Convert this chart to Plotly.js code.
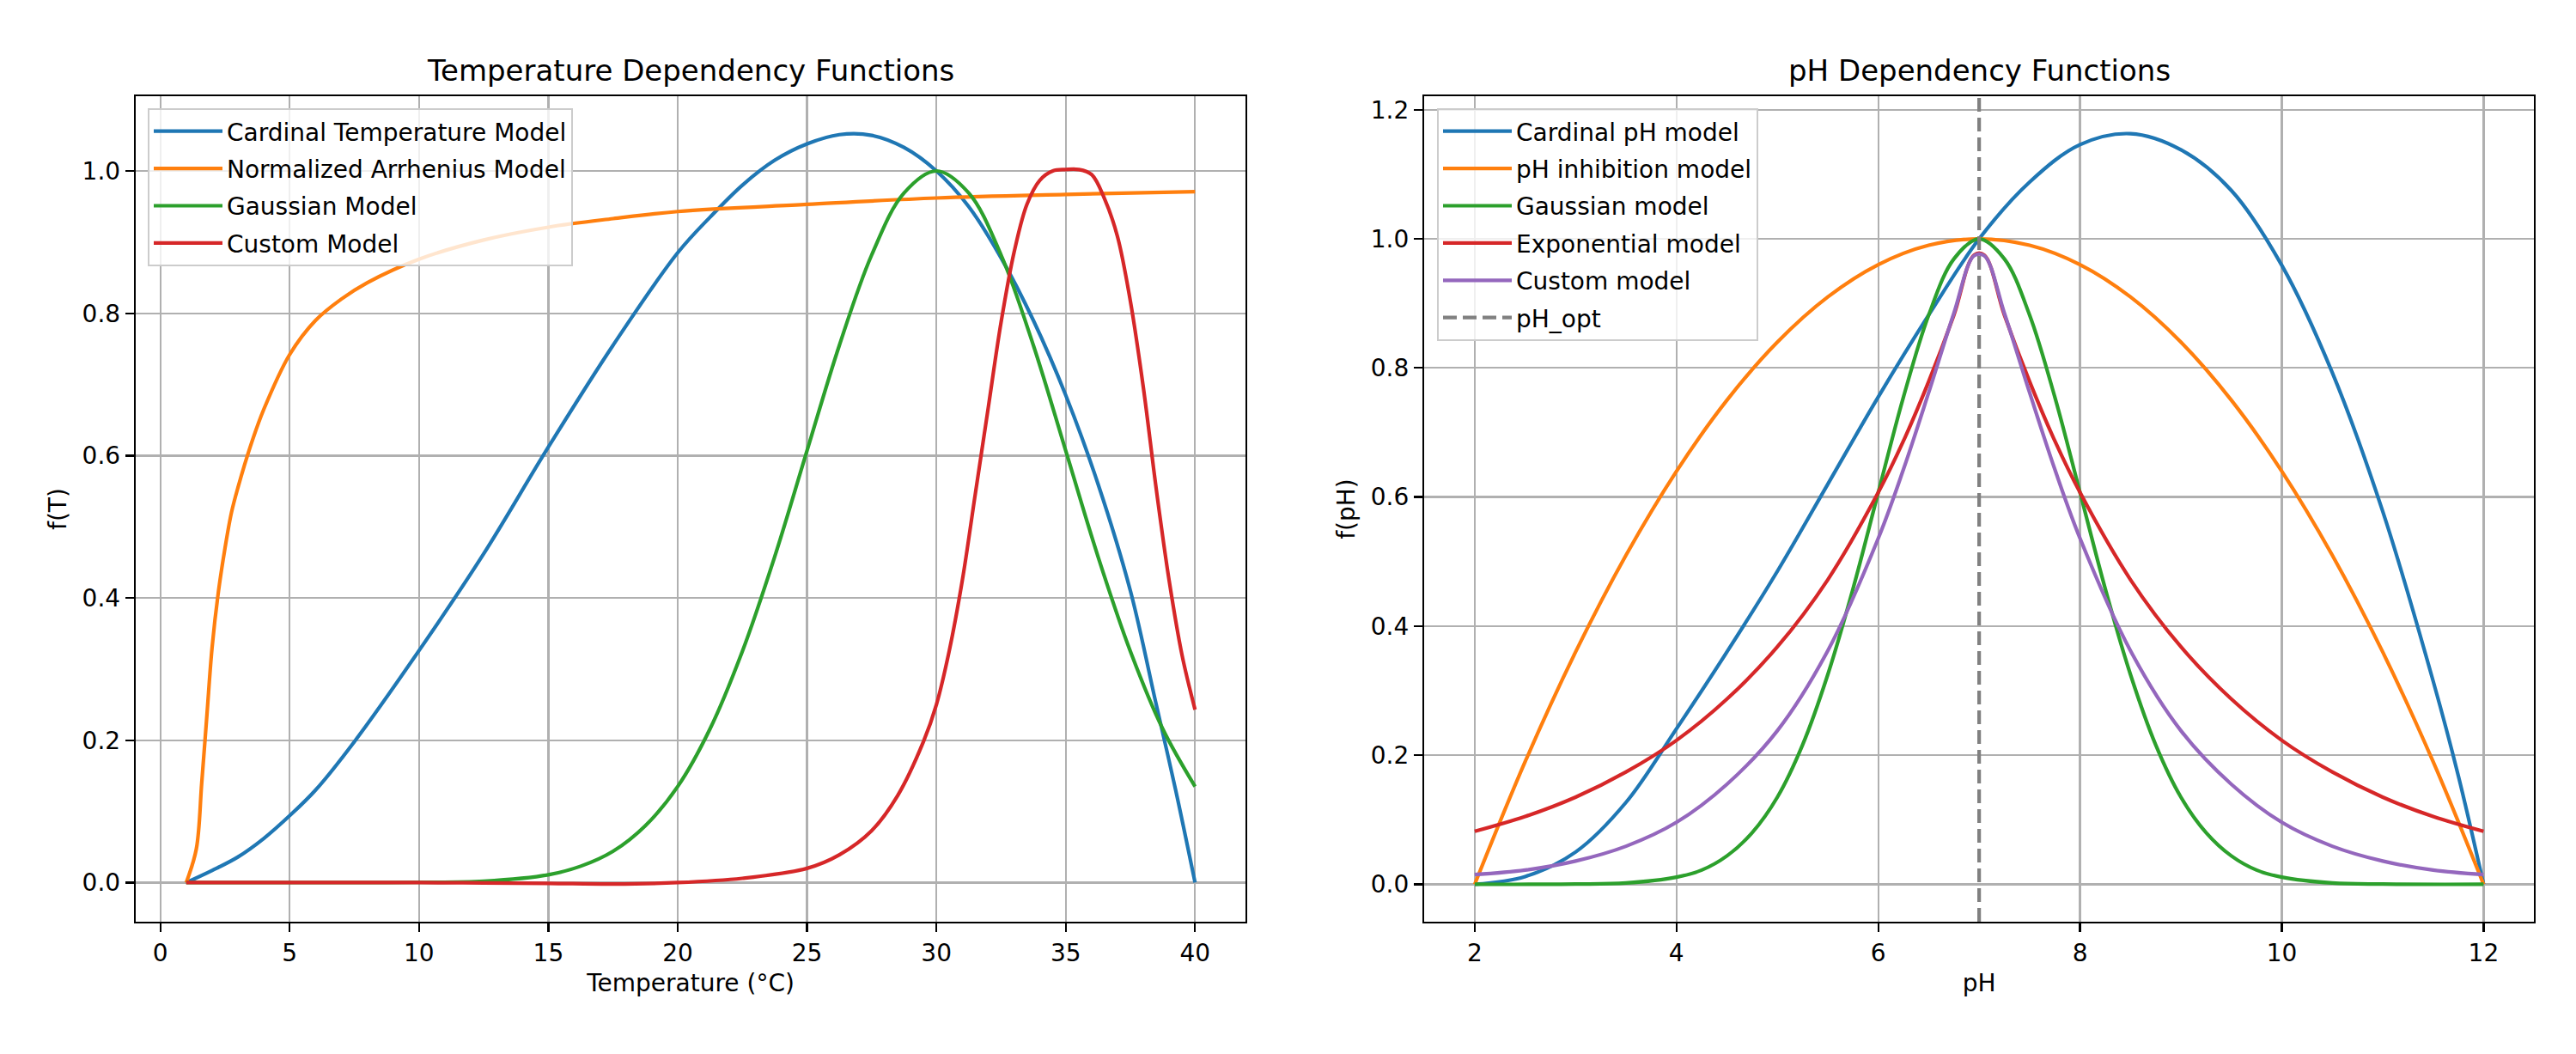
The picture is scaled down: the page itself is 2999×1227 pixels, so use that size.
<!DOCTYPE html>
<html>
<head>
<meta charset="utf-8">
<script src="https://cdn.plot.ly/plotly-3.0.1.min.js"></script>
<style>
    html, body { margin: 0; padding: 0; background: #ffffff; }
    #chart { width: 2999px; height: 1227px; }
</style>
</head>
<body>
<div id="chart"></div>
<script>
// Temperature panel
const cardinalTempX = [1, 2, 3, 4, 5, 6, 7.5, 10, 12.5, 15, 17.5, 20, 21.25, 22.5, 23.75, 25, 26.25, 27.5, 28.75, 30, 31.25, 32.5, 33.75, 35, 36.25, 37.5, 38.5, 39.25, 40];
const cardinalTempY = [0, 0.017, 0.036, 0.062, 0.094, 0.13, 0.198, 0.326, 0.462, 0.612, 0.755, 0.885, 0.935, 0.98, 1.015, 1.038, 1.051, 1.05, 1.033, 1.0, 0.95, 0.878, 0.79, 0.685, 0.56, 0.41, 0.25, 0.13, 0];

const arrheniusX = [1, 1.39, 1.6, 1.8, 2, 2.25, 2.5, 2.75, 3, 3.5, 4, 5, 6, 7, 8, 10, 12.5, 15, 17.5, 20, 25, 30, 35, 40];
const arrheniusY = [0, 0.047, 0.14, 0.235, 0.33, 0.41, 0.47, 0.52, 0.555, 0.615, 0.665, 0.742, 0.79, 0.82, 0.843, 0.876, 0.903, 0.921, 0.933, 0.943, 0.953, 0.962, 0.967, 0.971];

const gaussTempX = [1, 5, 7.5, 10, 12.5, 15, 16.25, 17.5, 18.75, 20, 21.25, 22.5, 23.75, 25, 26.25, 27.5, 28.75, 30, 31.25, 32.5, 33.75, 35, 36.25, 37.5, 38.75, 40];
const gaussTempY = [0, 0, 0.0001, 0.0003, 0.002, 0.011, 0.023, 0.044, 0.08, 0.135, 0.216, 0.325, 0.458, 0.607, 0.755, 0.882, 0.969, 1.0, 0.969, 0.882, 0.755, 0.607, 0.458, 0.325, 0.216, 0.135];

const customTempX = [1, 5, 10, 12.5, 15, 17.5, 20, 22.5, 25, 26.25, 27.5, 28.5, 29.5, 30, 30.5, 31, 31.5, 32, 32.5, 33, 33.5, 34, 34.5, 35, 35.5, 36, 36.5, 37, 37.5, 38, 38.5, 39, 39.5, 40];
const customTempY = [0, 0, 0, -0.0005, -0.001, -0.002, 0, 0.006, 0.02, 0.039, 0.073, 0.122, 0.198, 0.25, 0.326, 0.424, 0.545, 0.666, 0.787, 0.885, 0.953, 0.987, 1.0, 1.002, 1.002, 0.995, 0.961, 0.908, 0.817, 0.696, 0.553, 0.424, 0.319, 0.243];

// pH panel
const cardinalPhX = [2, 2.5, 3, 3.5, 4, 4.5, 5, 5.5, 6, 6.5, 7, 7.5, 8, 8.5, 9, 9.5, 10, 10.5, 11, 11.5, 11.75, 12];
const cardinalPhY = [0, 0.012, 0.05, 0.127, 0.241, 0.36, 0.485, 0.62, 0.755, 0.882, 1.0, 1.088, 1.146, 1.163, 1.138, 1.075, 0.959, 0.793, 0.578, 0.315, 0.168, 0];

const inhibitionX = [2, 2.5, 3, 3.5, 4, 4.5, 5, 5.5, 6, 6.5, 7, 7.5, 8, 8.5, 9, 9.5, 10, 10.5, 11, 11.5, 12];
const inhibitionY = [0, 0.19, 0.36, 0.51, 0.64, 0.75, 0.84, 0.91, 0.96, 0.99, 1.0, 0.99, 0.96, 0.91, 0.84, 0.75, 0.64, 0.51, 0.36, 0.19, 0];

const gaussPhX = [2, 3, 3.5, 4, 4.25, 4.5, 4.75, 5, 5.25, 5.5, 5.75, 6, 6.25, 6.5, 6.75, 7, 7.25, 7.5, 7.75, 8, 8.25, 8.5, 8.75, 9, 9.25, 9.5, 9.75, 10, 10.5, 11, 12];
const gaussPhY = [0, 0.0003, 0.002, 0.011, 0.022, 0.044, 0.08, 0.135, 0.216, 0.325, 0.458, 0.607, 0.755, 0.882, 0.969, 1.0, 0.969, 0.882, 0.755, 0.607, 0.458, 0.325, 0.216, 0.135, 0.08, 0.044, 0.022, 0.011, 0.002, 0.0003, 0];

const expPhX = [2, 2.5, 3, 3.5, 4, 4.5, 5, 5.5, 6, 6.25, 6.5, 6.75, 6.95, 7.05, 7.25, 7.5, 7.75, 8, 8.5, 9, 9.5, 10, 10.5, 11, 11.5, 12];
const expPhY = [0.082, 0.105, 0.135, 0.174, 0.223, 0.287, 0.368, 0.472, 0.607, 0.687, 0.779, 0.882, 0.975, 0.975, 0.882, 0.779, 0.687, 0.607, 0.472, 0.368, 0.287, 0.223, 0.174, 0.135, 0.105, 0.082];

const customPhX = [2, 2.5, 3, 3.5, 4, 4.5, 5, 5.5, 6, 6.25, 6.5, 6.75, 6.95, 7.05, 7.25, 7.5, 7.75, 8, 8.5, 9, 9.5, 10, 10.5, 11, 11.5, 12];
const customPhY = [0.015, 0.022, 0.036, 0.059, 0.096, 0.155, 0.238, 0.362, 0.536, 0.643, 0.762, 0.885, 0.974, 0.974, 0.885, 0.762, 0.643, 0.536, 0.362, 0.238, 0.155, 0.096, 0.059, 0.036, 0.022, 0.015];

const pHOpt = 7;

const tempNames = ['Cardinal Temperature Model', 'Normalized Arrhenius Model', 'Gaussian Model', 'Custom Model'];
const phNames = ['Cardinal pH model', 'pH inhibition model', 'Gaussian model', 'Exponential model', 'Custom model', 'pH_opt'];
const colors = ['#1f77b4', '#ff7f0e', '#2ca02c', '#d62728', '#9467bd'];

const FONT = 'DejaVu Sans';

// one line trace
function curve(x, y, name, color, axis, legend, group) {
    return {
        x, y, name,
        type: 'scatter',
        mode: 'lines',
        line: { color, width: 4.2, shape: 'spline', smoothing: 1 },
        xaxis: 'x' + axis, yaxis: 'y' + axis,
        legend, legendgroup: group,
        hoverinfo: 'skip'
    };
}

const traces = [
    curve(cardinalTempX, cardinalTempY, tempNames[0], colors[0], '', 'legend', 'a1'),
    curve(arrheniusX, arrheniusY, tempNames[1], colors[1], '', 'legend', 'a2'),
    curve(gaussTempX, gaussTempY, tempNames[2], colors[2], '', 'legend', 'a3'),
    curve(customTempX, customTempY, tempNames[3], colors[3], '', 'legend', 'a4'),
    curve(cardinalPhX, cardinalPhY, phNames[0], colors[0], '2', 'legend2', 'b1'),
    curve(inhibitionX, inhibitionY, phNames[1], colors[1], '2', 'legend2', 'b2'),
    curve(gaussPhX, gaussPhY, phNames[2], colors[2], '2', 'legend2', 'b3'),
    curve(expPhX, expPhY, phNames[3], colors[3], '2', 'legend2', 'b4'),
    curve(customPhX, customPhY, phNames[4], colors[4], '2', 'legend2', 'b5')
];

const axisStyle = {
    showline: true, mirror: true, linecolor: '#000000', linewidth: 2.3,
    ticks: 'outside', ticklen: 10, tickwidth: 2.3, tickcolor: '#000000',
    showgrid: true, gridcolor: '#b0b0b0', gridwidth: 2.3,
    zeroline: false,
    tickfont: { family: FONT, size: 28, color: '#000000' }
};

const legendStyle = {
    xanchor: 'left', yanchor: 'top',
    bgcolor: 'rgba(255,255,255,0.8)',
    bordercolor: '#cccccc', borderwidth: 2,
    font: { family: FONT, size: 28, color: '#000000' },
    tracegroupgap: 4,
    itemwidth: 80
};

const layout = {
    width: 2999, height: 1227,
    margin: { l: 0, r: 0, t: 0, b: 0 },
    paper_bgcolor: '#ffffff', plot_bgcolor: '#ffffff',
    font: { family: FONT, size: 28, color: '#000000' },
    xaxis: Object.assign({}, axisStyle, {
        domain: [0.0527, 0.4835], range: [-0.95, 41.95],
        tickvals: [0, 5, 10, 15, 20, 25, 30, 35, 40],
        title: { text: 'Temperature (°C)', font: { family: FONT, size: 28 }, standoff: 10 }
    }),
    yaxis: Object.assign({}, axisStyle, {
        domain: [0.1255, 0.9087], range: [-0.055, 1.105],
        tickvals: [0, 0.2, 0.4, 0.6, 0.8, 1.0], tickformat: '.1f',
        title: { text: 'f(T)', font: { family: FONT, size: 28 }, standoff: 10 }
    }),
    xaxis2: Object.assign({}, axisStyle, {
        domain: [0.5529, 0.9837], range: [1.5, 12.5], anchor: 'y2',
        tickvals: [2, 4, 6, 8, 10, 12],
        title: { text: 'pH', font: { family: FONT, size: 28 }, standoff: 10 }
    }),
    yaxis2: Object.assign({}, axisStyle, {
        domain: [0.1255, 0.9087], range: [-0.058, 1.221], anchor: 'x2',
        tickvals: [0, 0.2, 0.4, 0.6, 0.8, 1.0, 1.2], tickformat: '.1f',
        title: { text: 'f(pH)', font: { family: FONT, size: 28 }, standoff: 10 }
    }),
    legend: Object.assign({}, legendStyle, { x: 172 / 2999, y: 1 - 126 / 1227 }),
    legend2: Object.assign({}, legendStyle, { x: 1673 / 2999, y: 1 - 126 / 1227 }),
    shapes: [{
        type: 'line', xref: 'x2', yref: 'y2 domain',
        x0: pHOpt, x1: pHOpt, y0: 0, y1: 1,
        line: { color: '#808080', width: 4.2, dash: '16px,7px' },
        name: phNames[5], showlegend: true, legend: 'legend2', legendgroup: 'b6'
    }],
    annotations: [
        {
            text: 'Temperature Dependency Functions', xref: 'x domain', yref: 'y domain',
            x: 0.5, y: 1, xanchor: 'center', yanchor: 'bottom', yshift: 8, showarrow: false,
            font: { family: FONT, size: 34, color: '#000000' }
        },
        {
            text: 'pH Dependency Functions', xref: 'x2 domain', yref: 'y2 domain',
            x: 0.5, y: 1, xanchor: 'center', yanchor: 'bottom', yshift: 8, showarrow: false,
            font: { family: FONT, size: 34, color: '#000000' }
        }
    ]
};

Plotly.newPlot('chart', traces, layout, { displayModeBar: false, staticPlot: true });
</script>
</body>
</html>
